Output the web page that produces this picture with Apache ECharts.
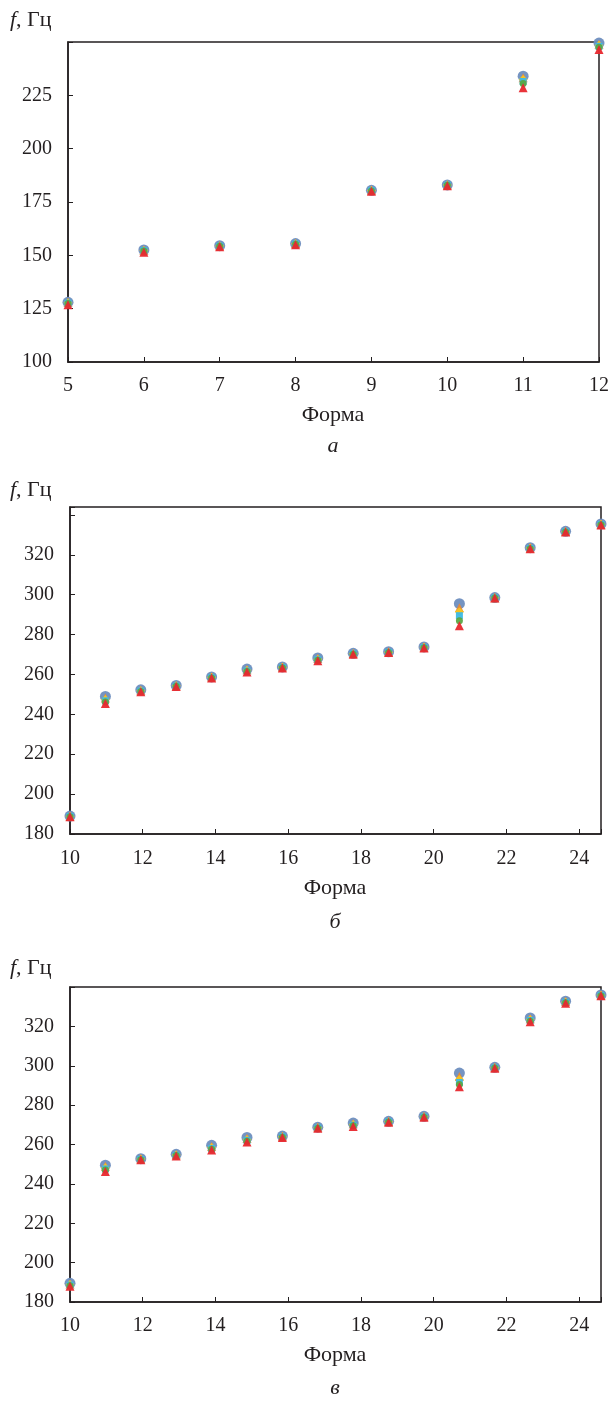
<!DOCTYPE html>
<html>
<head>
<meta charset="utf-8">
<script src="https://cdn.jsdelivr.net/npm/echarts@6/dist/echarts.min.js"></script>
<style>
  html, body { margin: 0; padding: 0; background: #fff; }
  #chart { width: 612px; height: 1411px; }
</style>
</head>
<body>
<div id="chart"></div>
<script>
// forms (x) for each panel
var formsA = [5, 6, 7, 8, 9, 10, 11, 12];
var formsB = [10, 11, 12, 13, 14, 15, 16, 17, 18, 19, 20, 21, 22, 23, 24, 25];
var formsC = [10, 11, 12, 13, 14, 15, 16, 17, 18, 19, 20, 21, 22, 23, 24, 25];

// panel a, frequency f (Hz), six variants
var aBlue   = [128.0, 152.5, 154.5, 155.5, 180.5, 183.0, 234.0, 249.5];
var aOrange = [128.0, 152.4, 154.5, 155.5, 180.5, 183.0, 233.3, 249.0];
var aYellow = [127.8, 152.3, 154.4, 155.4, 180.4, 183.0, 232.4, 248.5];
var aCyan   = [127.6, 152.2, 154.3, 155.3, 180.3, 182.9, 231.5, 248.0];
var aGreen  = [127.4, 152.0, 154.2, 155.2, 180.2, 182.8, 230.5, 247.5];
var aRed    = [126.8, 151.5, 154.0, 155.0, 180.0, 182.6, 228.5, 246.5];

// panel b
var bBlue   = [189.0, 249.0, 252.3, 254.5, 258.8, 262.7, 263.8, 268.3, 270.6, 271.4, 273.8, 295.5, 298.6, 323.6, 331.8, 335.5];
var bOrange = [188.9, 248.2, 252.1, 254.4, 258.7, 262.4, 263.7, 268.0, 270.5, 271.3, 273.7, 293.5, 298.5, 323.5, 331.7, 335.4];
var bYellow = [188.8, 247.5, 251.9, 254.3, 258.6, 262.1, 263.6, 267.7, 270.4, 271.2, 273.6, 291.5, 298.5, 323.4, 331.6, 335.3];
var bCyan   = [188.8, 246.8, 251.7, 254.2, 258.4, 261.8, 263.5, 267.4, 270.3, 271.1, 273.5, 289.5, 298.4, 323.2, 331.5, 335.2];
var bGreen  = [188.7, 246.2, 251.5, 254.1, 258.3, 261.5, 263.4, 267.1, 270.2, 271.0, 273.4, 287.0, 298.4, 323.1, 331.4, 335.1];
var bRed    = [188.6, 245.5, 251.3, 254.0, 258.2, 261.3, 263.3, 266.9, 270.2, 271.0, 273.3, 284.5, 298.3, 323.0, 331.4, 335.0];

// panel c
var cBlue   = [189.5, 249.5, 252.8, 255.0, 259.6, 263.6, 264.3, 268.8, 270.9, 271.8, 274.3, 296.3, 299.2, 324.3, 332.8, 336.0];
var cOrange = [189.2, 248.9, 252.7, 254.8, 259.0, 263.1, 264.2, 268.7, 270.6, 271.7, 274.2, 294.5, 299.1, 323.9, 332.6, 335.9];
var cYellow = [188.9, 248.2, 252.6, 254.7, 258.5, 262.6, 264.0, 268.5, 270.2, 271.6, 274.1, 293.0, 299.0, 323.5, 332.4, 335.8];
var cCyan   = [188.6, 247.6, 252.4, 254.5, 258.0, 262.1, 263.9, 268.4, 269.8, 271.5, 274.0, 291.5, 298.9, 323.0, 332.2, 335.7];
var cGreen  = [188.3, 247.0, 252.3, 254.4, 257.6, 261.7, 263.7, 268.3, 269.5, 271.4, 273.9, 290.5, 298.8, 322.6, 332.0, 335.6];
var cRed    = [188.0, 246.3, 252.2, 254.2, 257.2, 261.3, 263.6, 268.2, 269.2, 271.3, 273.8, 289.3, 298.7, 322.3, 331.8, 335.5];

var FONT = '"Liberation Serif", "DejaVu Serif", serif';
var INK = '#231f20';

// marker styles for the six variants, bottom to top
var markers = [
    { name: 'Вариант 1', symbol: 'circle',   size: 11, color: '#6e8ebf' },
    { name: 'Вариант 2', symbol: 'triangle', size: 9,  color: '#e58a3c' },
    { name: 'Вариант 3', symbol: 'diamond',  size: 9,  color: '#f6c420' },
    { name: 'Вариант 4', symbol: 'rect',     size: 7,  color: '#3cb9e6' },
    { name: 'Вариант 5', symbol: 'circle',   size: 7,  color: '#5aa845' },
    { name: 'Вариант 6', symbol: 'triangle', size: 9,  color: '#e8282e' }
];

function makeSeries(xAxisIndex, yAxisIndex, xs, lists) {
    return lists.map(function (vals, k) {
        var m = markers[k];
        return {
            name: m.name,
            type: 'scatter',
            xAxisIndex: xAxisIndex,
            yAxisIndex: yAxisIndex,
            symbol: m.symbol,
            symbolSize: m.size,
            itemStyle: { color: m.color, opacity: 0.95 },
            z: 3 + k,
            data: xs.map(function (x, i) { return [x, vals[i]]; })
        };
    });
}

function labelAxis(gridIndex, min, max, interval, margin) {
    return {
        type: 'value', gridIndex: gridIndex, min: min, max: max, interval: interval,
        axisLine: { show: true, lineStyle: { color: INK, width: 1.5 } },
        axisTick: { show: true, inside: true, length: 5, lineStyle: { color: INK, width: 1 } },
        splitLine: { show: false },
        axisLabel: {
            fontFamily: FONT, fontSize: 20, color: INK, margin: margin,
            formatter: function (v) { return Number.isInteger(v) ? String(v) : ''; }
        }
    };
}

function yAxisCfg(gridIndex, min, max, interval, lastShown) {
    var ax = labelAxis(gridIndex, min, max, interval, 16);
    ax.axisLabel.formatter = function (v) { return v <= lastShown ? String(v) : ''; };
    return ax;
}

function hiddenX(gridIndex, min, max) {
    return { type: 'value', gridIndex: gridIndex, min: min, max: max, show: false };
}

function txt(x, y, text, opts) {
    opts = opts || {};
    return {
        type: 'text', x: x, y: y,
        style: {
            text: text,
            font: (opts.italic ? 'italic ' : '') + '22px ' + FONT,
            fill: INK,
            align: opts.align || 'center',
            verticalAlign: 'middle',
            rich: { i: { fontStyle: 'italic', fontFamily: FONT, fontSize: 22, fill: INK } }
        }
    };
}

var chart = echarts.init(document.getElementById('chart'), null, { renderer: 'canvas' });

var gridStyle = { show: true, borderColor: INK, borderWidth: 1.5, backgroundColor: 'transparent' };

var option = {
    animation: false,
    backgroundColor: '#fff',
    grid: [
        Object.assign({ left: 68, right: 13, top: 42, height: 320 }, gridStyle),
        Object.assign({ left: 70, right: 11, top: 507, height: 327 }, gridStyle),
        Object.assign({ left: 70, right: 11, top: 987, height: 315 }, gridStyle)
    ],
    xAxis: [
        labelAxis(0, 5, 12, 1, 14),
        labelAxis(1, 10, 24.6, 2, 15),
        labelAxis(2, 10, 24.6, 2, 14),
        hiddenX(1, 10, 25),
        hiddenX(2, 10, 25)
    ],
    yAxis: [
        yAxisCfg(0, 100, 250, 25, 225),
        yAxisCfg(1, 180, 344, 20, 320),
        yAxisCfg(2, 180, 340, 20, 320)
    ],
    graphic: [
        txt(10, 20, '{i|f}, Гц', { align: 'left' }),
        txt(333, 415, 'Форма'),
        txt(333, 446, 'а', { italic: true }),
        txt(10, 490, '{i|f}, Гц', { align: 'left' }),
        txt(335, 888, 'Форма'),
        txt(335, 922, 'б', { italic: true }),
        txt(10, 968, '{i|f}, Гц', { align: 'left' }),
        txt(335, 1355, 'Форма'),
        txt(335, 1388, 'в', { italic: true })
    ],
    series: [].concat(
        makeSeries(0, 0, formsA, [aBlue, aOrange, aYellow, aCyan, aGreen, aRed]),
        makeSeries(3, 1, formsB, [bBlue, bOrange, bYellow, bCyan, bGreen, bRed]),
        makeSeries(4, 2, formsC, [cBlue, cOrange, cYellow, cCyan, cGreen, cRed])
    )
};

chart.setOption(option);
</script>
</body>
</html>
